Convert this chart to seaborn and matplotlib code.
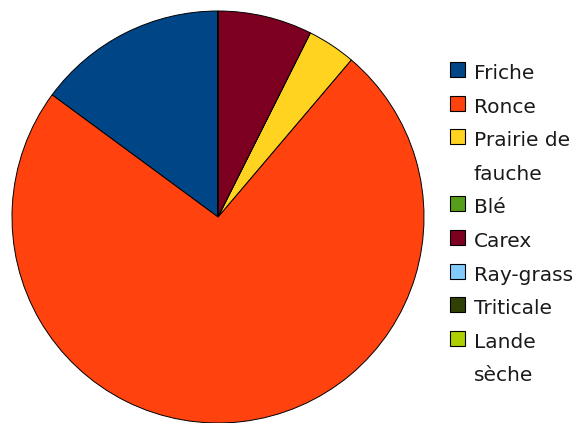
import matplotlib
matplotlib.use("Agg")
import matplotlib.pyplot as plt
import seaborn as sns
from matplotlib.patches import Rectangle

sns.set_theme(style="white")
plt.rcParams["font.family"] = ["DejaVu Sans"]

# Share of each land cover (percent)
categories = ["Friche", "Ronce", "Prairie de\nfauche", "Blé", "Carex",
              "Ray-grass", "Triticale", "Lande\nsèche"]
values = [14.9, 73.9, 3.8, 0.0, 7.4, 0.0, 0.0, 0.0]
colors = ["#004586", "#ff420e", "#ffd320", "#579d1c", "#7e0021",
          "#83caff", "#314004", "#aecf00"]

W, H = 578, 423
fig = plt.figure(figsize=(W / 100, H / 100), dpi=100)
fig.patch.set_facecolor("white")

cx, cy, r = 218, 217, 206
ax = fig.add_axes([(cx - r) / W, (H - cy - r) / H, 2 * r / W, 2 * r / H])
ax.pie(values, colors=colors, startangle=90, counterclock=True,
       wedgeprops=dict(edgecolor="black", linewidth=0.7))
ax.set_xlim(-1, 1)
ax.set_ylim(-1, 1)
ax.set_aspect("equal")
ax.axis("off")

# Legend: one swatch per category, label lines on a fixed baseline grid
first_baseline, line_step = 79, 33.6
box_x, box_size, text_x = 450, 15, 474
line = 0
for label, col in zip(categories, colors):
    base = first_baseline + line_step * line
    fig.patches.append(Rectangle(((box_x) / W, (H - base + 2) / H),
                                 box_size / W, box_size / H,
                                 transform=fig.transFigure, facecolor=col,
                                 edgecolor="black", linewidth=0.8))
    for part in label.split("\n"):
        b = first_baseline + line_step * line
        fig.text(text_x / W, (H - b) / H, part, fontsize=14.5,
                 va="baseline", ha="left", color="#1a1a1a")
        line += 1

fig.savefig("out.png", dpi=100)
